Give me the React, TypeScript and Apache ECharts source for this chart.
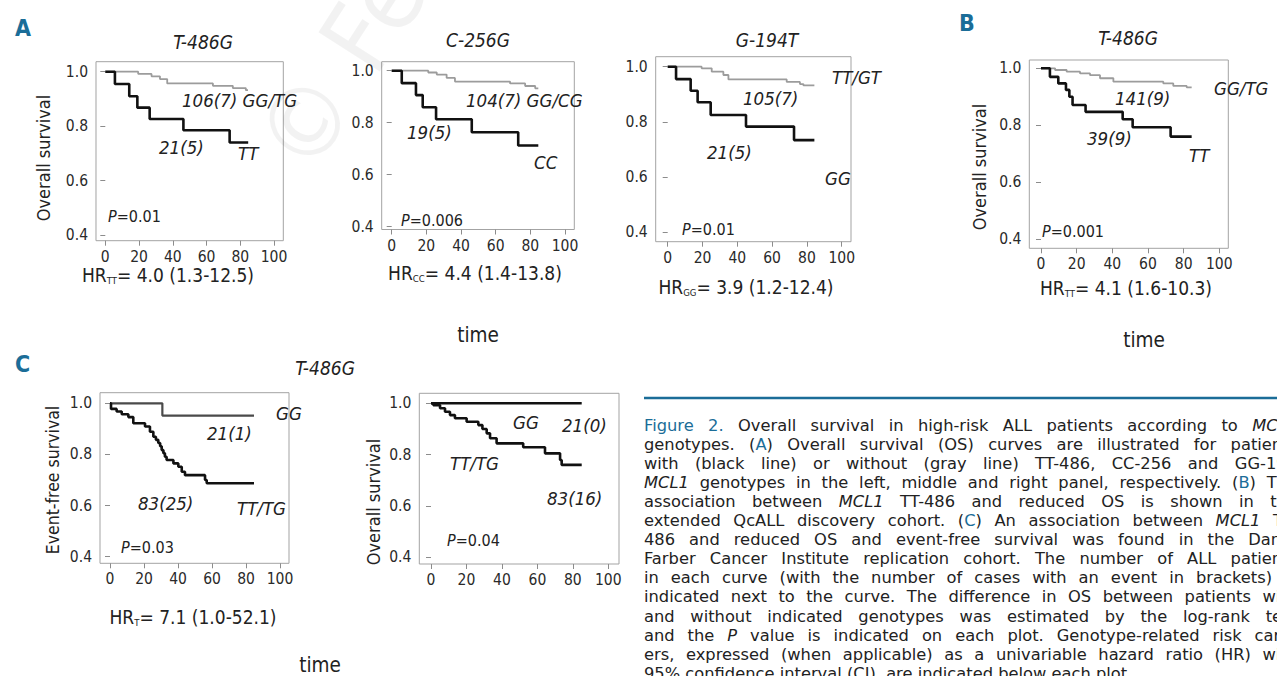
import React, { useEffect, useRef } from 'react';
import * as echarts from 'echarts';

const FONT = "'DejaVu Sans Condensed', 'Liberation Sans Narrow', 'Liberation Sans', sans-serif";
const CAP_FONT = "'DejaVu Sans', 'Liberation Sans', sans-serif";
const BLUE = '#1b6d98';
const INK = '#222';
const GRAY = '#9c9c9c';
const BLACK = '#111';
const DARK = '#4a4a4a';

const X_TICKS = [0, 20, 40, 60, 80, 100];
const Y_TICKS = [0.4, 0.6, 0.8, 1.0];

// Panel A, T-486G
const A1_TT_T = [5.7, 14.2, 19, 26.3, 46.3, 73.7];
const A1_TT_S = [0.955, 0.91, 0.868, 0.826, 0.785, 0.74];
const A1_GG_T = [19.5, 27.4, 32.4, 36.7, 63.8, 75.6, 83.3];
const A1_GG_S = [0.992, 0.983, 0.973, 0.957, 0.948, 0.94, 0.932];
// Panel A, C-256G
const A2_CC_T = [5.8, 14, 17.9, 25.6, 46.2, 73];
const A2_CC_S = [0.952, 0.906, 0.859, 0.813, 0.763, 0.712];
const A2_GG_T = [21.1, 26, 31.7, 36.5, 68.3, 77, 82.8];
const A2_GG_S = [0.993, 0.985, 0.972, 0.958, 0.951, 0.941, 0.932];
// Panel A, G-194T
const A3_GG_T = [4.8, 13.2, 17.2, 24.7, 45, 72.6];
const A3_GG_S = [0.955, 0.913, 0.871, 0.825, 0.783, 0.734];
const A3_TT_T = [19.5, 25.3, 32, 34.9, 68.4, 76, 78];
const A3_TT_S = [0.994, 0.982, 0.97, 0.954, 0.945, 0.937, 0.932];
// Panel B
const B_TT_T = [5, 9.7, 14, 15.9, 17.7, 25, 45.8, 51.4, 72.7];
const B_TT_S = [0.97, 0.947, 0.924, 0.9, 0.871, 0.847, 0.821, 0.793, 0.76];
const B_GG_T = [7.9, 14.4, 21.9, 27.5, 33.1, 40.6, 68.6, 74.2, 81.7];
const B_GG_S = [0.994, 0.988, 0.982, 0.976, 0.965, 0.953, 0.947, 0.938, 0.933];
// Panel C, event-free survival
const C1_GG_T = [30.8];
const C1_GG_S = [0.952];
const C1_TT_T = [0.6, 3.9, 6.9, 10.8, 13.7, 20.6, 23.5, 25.5, 27, 28.4, 29.5, 30.4, 31.4, 32.3, 33.3, 37.3, 40.2, 42.2, 44.1, 55.9, 56.9];
const C1_TT_S = [0.978, 0.968, 0.957, 0.946, 0.922, 0.909, 0.889, 0.869, 0.857, 0.845, 0.832, 0.817, 0.805, 0.791, 0.778, 0.765, 0.752, 0.732, 0.719, 0.7, 0.687];
// Panel C, overall survival
const C2_GG_T: number[] = [];
const C2_GG_S: number[] = [];
const C2_TT_T = [1.3, 5.1, 7.9, 10.7, 13.5, 20.1, 26.7, 29, 31.4, 33.3, 37, 52, 64.3, 72.8, 73.7];
const C2_TT_S = [0.993, 0.981, 0.967, 0.954, 0.942, 0.928, 0.915, 0.9, 0.883, 0.864, 0.844, 0.829, 0.805, 0.779, 0.76];

const CAPTION_LINES = [
  '{b|Figure} {b|2.} Overall survival in high-risk ALL patients according to {i|MCL1}',
  'genotypes. ({b|A}) Overall survival (OS) curves are illustrated for patients',
  'with (black line) or without (gray line) TT-486, CC-256 and GG-194',
  '{i|MCL1} genotypes in the left, middle and right panel, respectively. ({b|B}) The',
  'association between {i|MCL1} TT-486 and reduced OS is shown in the',
  'extended QcALL discovery cohort. ({b|C}) An association between {i|MCL1} TT-',
  '486 and reduced OS and event-free survival was found in the Dana-',
  'Farber Cancer Institute replication cohort. The number of ALL patients',
  'in each curve (with the number of cases with an event in brackets) is',
  'indicated next to the curve. The difference in OS between patients with',
  'and without indicated genotypes was estimated by the log-rank test',
  'and the {i|P} value is indicated on each plot. Genotype-related risk carri-',
  'ers, expressed (when applicable) as a univariable hazard ratio (HR) with',
  '95% confidence interval (CI), are indicated below each plot.',
];

type Curve = { t: number[]; s: number[]; end: number; color: string; w: number };
type Panel = { box: number[]; tick: number[]; curves: Curve[] };

const PANELS: Panel[] = [
  { box: [96, 61.7, 283.3, 240.7], tick: [105.3, 274, 71.7, 235], curves: [
    { t: A1_GG_T, s: A1_GG_S, end: 84.6, color: GRAY, w: 1.8 },
    { t: A1_TT_T, s: A1_TT_S, end: 84.7, color: BLACK, w: 2.6 }] },
  { box: [381.7, 61.7, 574.3, 229.5], tick: [391.7, 565, 70.7, 226.5], curves: [
    { t: A2_GG_T, s: A2_GG_S, end: 84.6, color: GRAY, w: 1.8 },
    { t: A2_CC_T, s: A2_CC_S, end: 84.6, color: BLACK, w: 2.6 }] },
  { box: [655.7, 56.7, 851, 241.7], tick: [667.7, 841.7, 66.7, 232.3], curves: [
    { t: A3_TT_T, s: A3_TT_S, end: 84.3, color: GRAY, w: 1.8 },
    { t: A3_GG_T, s: A3_GG_S, end: 84.3, color: BLACK, w: 2.6 }] },
  { box: [1029.3, 60, 1228.3, 248.3], tick: [1041, 1219.3, 68.3, 239], curves: [
    { t: B_GG_T, s: B_GG_S, end: 84.5, color: GRAY, w: 1.8 },
    { t: B_TT_T, s: B_TT_S, end: 84.5, color: BLACK, w: 2.6 }] },
  { box: [100, 392.7, 289, 563.3], tick: [110, 280, 403.3, 556.7], curves: [
    { t: C1_GG_T, s: C1_GG_S, end: 84.7, color: DARK, w: 2.2 },
    { t: C1_TT_T, s: C1_TT_S, end: 84.7, color: BLACK, w: 2.6 }] },
  { box: [419.3, 393.3, 619, 564], tick: [431, 608.3, 403.3, 557.3], curves: [
    { t: C2_GG_T, s: C2_GG_S, end: 85, color: BLACK, w: 2.6 },
    { t: C2_TT_T, s: C2_TT_S, end: 85, color: BLACK, w: 2.6 }] },
];

export default function App() {
  const ref = useRef<HTMLDivElement>(null);
  useEffect(() => {
    const el = ref.current as HTMLDivElement;
    const chart = echarts.init(el, null, { renderer: 'svg' });
    const ctx = document.createElement('canvas').getContext('2d') as CanvasRenderingContext2D;
    const measure = (t: string, size: number, italic?: boolean, bold?: boolean, fam: string = FONT) => {
      ctx.font = `${italic ? 'italic ' : ''}${bold ? 'bold ' : ''}${size}px ${fam}`;
      return ctx.measureText(t).width;
    };
    const graphics: any[] = [];
    const txt = (x: number, y: number, text: string, o: any = {}) => {
      const align = o.align || 'left';
      graphics.push({
        type: 'text', x, y, silent: true, rotation: o.rotation || 0, z: 10,
        style: {
          text, fill: o.fill || INK, fontSize: o.size || 16, fontFamily: o.fam || FONT,
          fontStyle: o.italic ? 'italic' : 'normal', fontWeight: o.bold ? 'bold' : 'normal',
          textAlign: align, align, textVerticalAlign: 'middle', verticalAlign: 'middle',
        },
      });
    };
    const run = (x: number, y: number, pieces: any[], align: string) => {
      const ws = pieces.map((p) => measure(p.t, p.size, p.italic, p.bold));
      const total = ws.reduce((a, b) => a + b, 0);
      let cx = align === 'center' ? x - total / 2 : x;
      pieces.forEach((p, i) => {
        txt(cx, y + (p.dy || 0), p.t, { size: p.size, italic: p.italic, bold: p.bold, fill: p.fill });
        cx += ws[i];
      });
    };
    const label = (x: number, y: number, t: string) => txt(x, y, t, { size: 18.5, italic: true });
    const pval = (x: number, y: number, v: string) =>
      run(x, y, [{ t: 'P', size: 16, italic: true }, { t: '=' + v, size: 16 }], 'left');
    const hr = (x: number, y: number, sub: string, rest: string) =>
      run(x, y, [{ t: 'HR', size: 19 }, { t: sub, size: 9.5, dy: 5 }, { t: rest, size: 19 }], 'center');
    const yname = (x: number, y: number, t: string, s = 18) => txt(x, y, t, { size: s, align: 'center', rotation: Math.PI / 2 });
    const title = (x: number, y: number, t: string) => txt(x, y, t, { size: 19, italic: true, align: 'center' });
    const letter = (x: number, y: number, t: string) => txt(x, y, t, { size: 23, bold: true, fill: BLUE });
    const time = (x: number, y: number) => txt(x, y, 'time', { size: 20.5, align: 'center' });

    // watermark
    graphics.push({
      type: 'text', x: 282, y: 160, rotation: 1.0, silent: true, z: 1,
      style: { text: '\u00a9 Ferrata Storti Foundation', fill: 'rgba(0,0,0,0.05)', fontSize: 100, fontFamily: FONT, textAlign: 'left', align: 'left', textVerticalAlign: 'middle', verticalAlign: 'middle' },
    });

    // Panel A
    letter(15, 27.5, 'A');
    title(203, 42, 'T-486G');
    yname(43, 158, 'Overall survival');
    hr(168, 275, 'TT', '= 4.0 (1.3-12.5)');
    label(182, 100, '106(7) GG/TG');
    label(159, 147, '21(5)');
    label(238, 153, 'TT');
    pval(108, 216, '0.01');

    title(478, 40, 'C-256G');
    hr(475, 273, 'CC', '= 4.4 (1.4-13.8)');
    label(466, 100, '104(7) GG/CG');
    label(407, 132, '19(5)');
    label(534, 162, 'CC');
    pval(401, 220, '0.006');
    time(478, 335);

    title(767, 40, 'G-194T');
    hr(746, 287, 'GG', '= 3.9 (1.2-12.4)');
    label(832, 77, 'TT/GT');
    label(743, 98, '105(7)');
    label(707, 152, '21(5)');
    label(825, 178, 'GG');
    pval(682, 229, '0.01');

    // Panel B
    letter(959, 23, 'B');
    title(1128, 38, 'T-486G');
    yname(979, 167, 'Overall survival');
    hr(1126, 288, 'TT', '= 4.1 (1.6-10.3)');
    time(1144, 340);
    label(1214, 88, 'GG/TG');
    label(1115, 98, '141(9)');
    label(1087, 138, '39(9)');
    label(1189, 155, 'TT');
    pval(1042, 231, '0.001');

    // Panel C
    letter(15, 364, 'C');
    title(325, 368, 'T-486G');
    yname(53, 480, 'Event-free survival', 17.5);
    hr(193, 617, 'T', '= 7.1 (1.0-52.1)');
    label(276, 413, 'GG');
    label(207, 433, '21(1)');
    label(138, 503, '83(25)');
    label(237, 508, 'TT/TG');
    pval(121, 547, '0.03');
    yname(373, 502, 'Overall survival');
    label(513, 422, 'GG');
    label(562, 425, '21(0)');
    label(450, 463, 'TT/TG');
    label(547, 498, '83(16)');
    pval(447, 540, '0.04');
    time(320, 665);

    // Caption
    const CAP = { left: 644, right: 1297, y0: 425, dy: 19.1, size: 16.3, rule: 398 };
    graphics.push({ type: 'line', silent: true, shape: { x1: CAP.left, y1: CAP.rule, x2: 1290, y2: CAP.rule }, style: { stroke: BLUE, lineWidth: 2.5 } });
    const parseWord = (w: string) => {
      const re = /\{(\w)\|([^}]*)\}|([^{]+)/g;
      const out: any[] = [];
      let m: RegExpExecArray | null;
      while ((m = re.exec(w))) {
        if (m[1]) out.push({ k: m[1], t: m[2] });
        else out.push({ k: 'n', t: m[3] });
      }
      return out;
    };
    CAPTION_LINES.forEach((line, li) => {
      const words = line.split(' ').map(parseWord);
      const pw = words.map((ps) => ps.map((p) => measure(p.t, CAP.size, p.k === 'i', false, CAP_FONT)));
      const ww = pw.map((a) => a.reduce((s, v) => s + v, 0));
      const sum = ww.reduce((s, v) => s + v, 0);
      const last = li === CAPTION_LINES.length - 1;
      const gap = last ? measure(' ', CAP.size, false, false, CAP_FONT) : (CAP.right - CAP.left - sum) / (words.length - 1);
      let cx = CAP.left;
      const y = CAP.y0 + li * CAP.dy;
      words.forEach((ps, wi) => {
        let px = cx;
        ps.forEach((p, pi) => {
          txt(px, y, p.t, { size: CAP.size, italic: p.k === 'i', fill: p.k === 'b' ? BLUE : INK, fam: CAP_FONT });
          px += pw[wi][pi];
        });
        cx += ww[wi] + gap;
      });
    });

    const grids: any[] = [];
    const xAxes: any[] = [];
    const yAxes: any[] = [];
    const series: any[] = [];
    PANELS.forEach((p, i) => {
      const [l, t, r, b] = p.box;
      const [x0, x100, y1, y04] = p.tick;
      const pxu = (x100 - x0) / 100;
      const pyu = (y04 - y1) / 0.6;
      grids.push({ left: l, top: t, width: r - l, height: b - t, show: true, borderColor: '#a3a3a3', borderWidth: 1, backgroundColor: 'rgba(0,0,0,0)' });
      const axisBase = {
        axisLine: { show: false },
        splitLine: { show: false },
      };
      xAxes.push({
        ...axisBase, type: 'value', gridIndex: i,
        min: (l - x0) / pxu, max: (r - x0) / pxu,
        axisTick: { show: true, length: 5, lineStyle: { color: '#8c8c8c' }, customValues: X_TICKS },
        axisLabel: { customValues: X_TICKS, margin: 8, color: '#2a2a2a', fontSize: 15.5, fontFamily: FONT },
      });
      yAxes.push({
        ...axisBase, type: 'value', gridIndex: i,
        min: 0.4 - (b - y04) / pyu, max: 1 + (y1 - t) / pyu,
        axisTick: { show: true, length: 5, lineStyle: { color: '#8c8c8c' }, customValues: Y_TICKS },
        axisLabel: { customValues: Y_TICKS, margin: 8, color: '#2a2a2a', fontSize: 15.5, fontFamily: FONT, formatter: (v: number) => v.toFixed(1) },
      });
      p.curves.forEach((c) => {
        const data: number[][] = [[0, 1]];
        c.t.forEach((tt, k) => data.push([tt, c.s[k]]));
        data.push([c.end, c.s.length ? c.s[c.s.length - 1] : 1]);
        series.push({
          type: 'line', xAxisIndex: i, yAxisIndex: i, step: 'end', data,
          showSymbol: false, symbol: 'none', silent: true,
          lineStyle: { color: c.color, width: c.w }, z: 3,
        });
      });
    });

    chart.setOption({
      animation: false,
      backgroundColor: '#fff',
      grid: grids,
      xAxis: xAxes,
      yAxis: yAxes,
      series,
      graphic: graphics,
    });
    return () => chart.dispose();
  }, []);
  return <div ref={ref} style={{ position: 'absolute', left: 0, top: 0, width: 1277, height: 676 }} />;
}
